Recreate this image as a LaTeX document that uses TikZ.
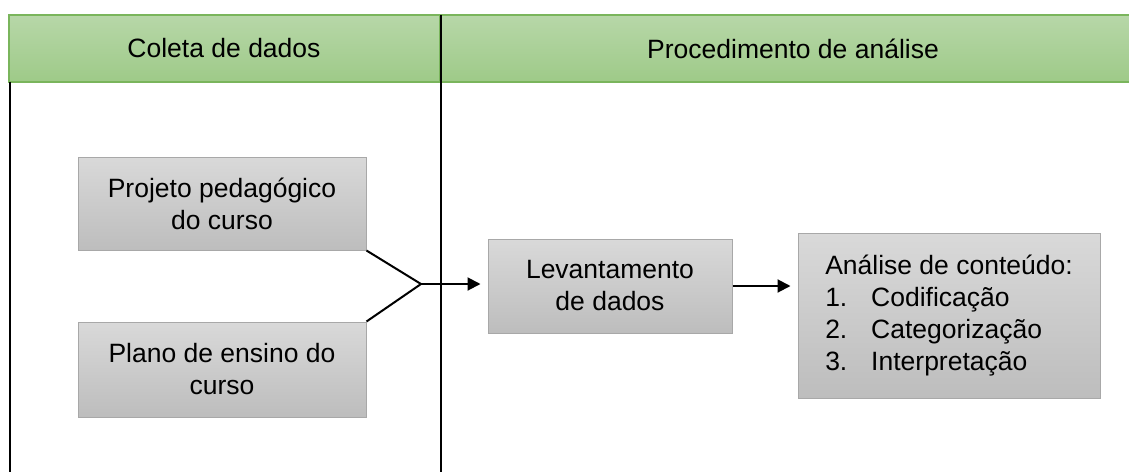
\documentclass[tikz,border=0pt]{standalone}
\usepackage{fontspec}
\setmainfont{Liberation Sans}
\usetikzlibrary{arrows.meta}
\definecolor{laneTop}{HTML}{B7D7A8}
\definecolor{laneBot}{HTML}{9ECA88}
\definecolor{laneLine}{HTML}{7AB55C}
\definecolor{boxTop}{HTML}{D9D9D9}
\definecolor{boxBot}{HTML}{BDBDBD}
\definecolor{boxLine}{HTML}{A8A8A8}

\begin{document}
\begin{tikzpicture}[x=1pt,y=-1pt,
  every node/.style={font=\fontsize{26.5}{32}\selectfont},
  lane/.style={draw=laneLine,line width=1.2pt,top color=laneTop,bottom color=laneBot},
  grey box/.style={draw=boxLine,line width=1pt,top color=boxTop,bottom color=boxBot,align=center,inner sep=0pt},
  rule/.style={line width=1.4pt,black},
  link/.style={line width=2pt},
  flow/.style={line width=2pt,-{Triangle[length=13pt,width=13pt]},shorten >=7pt}]
\useasboundingbox (0,0) rectangle (1129,472);
\fill[white] (0,0) rectangle (1129,472);
\draw[lane] (9,15) rectangle (440,82);
\draw[lane] (440,15) rectangle (1145,82);
\node (coleta) at (224,48.5) {Coleta de dados};
\node (proced) at (793,48.5) {Procedimento de análise};
\draw[rule] (441,15) -- (441,472);
\draw[rule] (10,82) -- (10,472);
\node[grey box,minimum width=288pt,minimum height=93pt] (projeto) at (222,203.5) {Projeto pedagógico\\do curso};
\node[grey box,minimum width=288pt,minimum height=95pt] (plano) at (222,369.5) {Plano de ensino do\\curso};
\node[grey box,minimum width=244pt,minimum height=94pt] (levant) at (610,286) {Levantamento\\de dados};
\node[grey box,minimum width=302pt,minimum height=165pt,align=left] (analise) at (949,315.5) {Análise de conteúdo:\\\makebox[46pt][l]{1.}Codificação\\\makebox[46pt][l]{2.}Categorização\\\makebox[46pt][l]{3.}Interpretação};
\coordinate (junta) at (421,284);
\draw[link] (projeto.south east) -- (junta) -- (plano.north east);
\draw[flow] (junta) -- (junta -| levant.west);
\draw[flow] (levant.east) -- (levant.east -| analise.west);
\end{tikzpicture}
\end{document}
